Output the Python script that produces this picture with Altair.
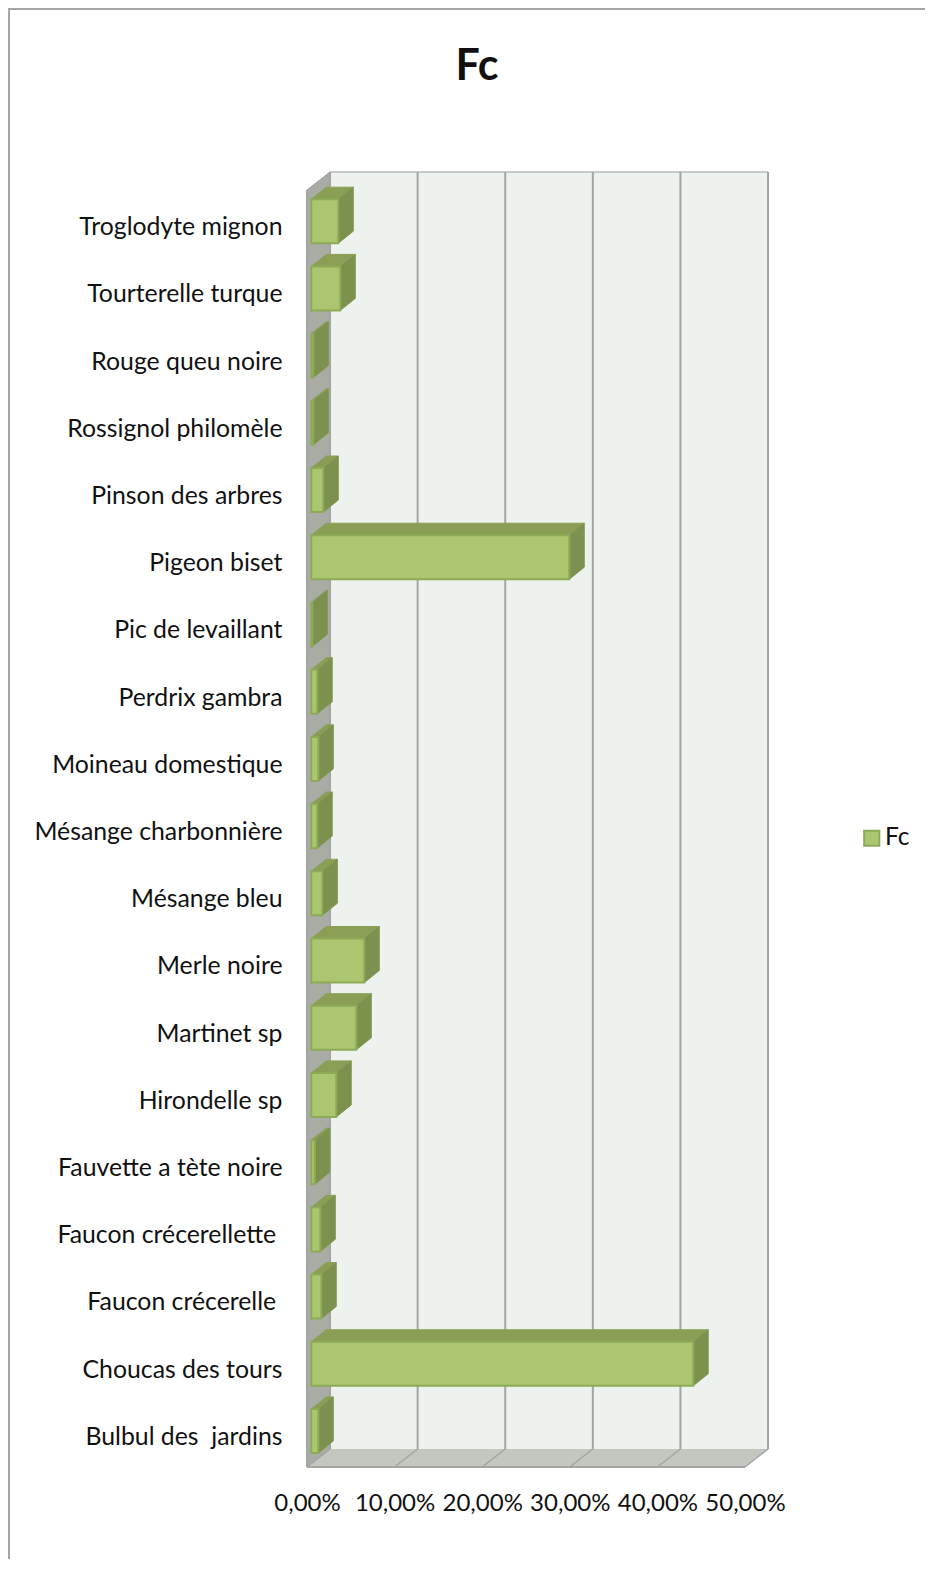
import json
import altair as alt
import pandas as pd

categories = ["Troglodyte mignon", "Tourterelle turque", "Rouge queu noire", "Rossignol philomèle",
              "Pinson des arbres", "Pigeon biset", "Pic de levaillant", "Perdrix gambra",
              "Moineau domestique", "Mésange charbonnière", "Mésange bleu", "Merle noire",
              "Martinet sp", "Hirondelle sp", "Fauvette a tète noire", "Faucon crécerellette\u00a0\u200b",
              "Faucon crécerelle\u00a0\u200b", "Choucas des tours", "Bulbul des\u00a0 jardins"]
values = [3.08, 3.31, 0.23, 0.23, 1.37, 29.45, 0.11, 0.68, 0.80, 0.68, 1.26, 6.05, 5.14, 2.85,
          0.40, 1.03, 1.14, 43.6, 0.80]
x_ticks = [0, 10, 20, 30, 40, 50]
series_name = "Fc"

# geometry of the pseudo-3D box, in axis units
WALL_DX, WALL_DY = 2.63, 0.268
BAR_DX, BAR_DY = 1.71, 0.179
BAR_X0, BAR_Y0, BAR_Y1 = 0.49, 0.208, 0.863
N = len(categories)

FONT = "Lato"
GRID = "#a3a5a3"

x_axis = alt.Axis(values=x_ticks, grid=False, domain=False, ticks=False, labelPadding=24,
                  labelExpr="replace(format(datum.value/100,'.2%'),'.',',')",
                  labelFont=FONT, labelFontSize=24, labelColor="#111111", labelOverlap=False, labelFlush=False,
                  labelLimit=300)
y_axis = alt.Axis(values=[r + 0.5 for r in range(N)], grid=False, domain=False, ticks=False, labelPadding=25,
                  labelExpr=json.dumps(categories[::-1], ensure_ascii=False) + "[floor(datum.value)]",
                  labelFont=FONT, labelFontSize=24.8, labelColor="#111111", labelOverlap=False, labelOffset=4,
                  labelLimit=300)
X = alt.X("x:Q", scale=alt.Scale(domain=[0, 50], nice=False), title=None, axis=x_axis)
Y = alt.Y("y:Q", scale=alt.Scale(domain=[0, N], nice=False), title=None, axis=y_axis)
X2 = alt.X2("x2:Q")
Y2 = alt.Y2("y2:Q")

rows = [dict(cat=c, v=v, r=N - 1 - i) for i, (c, v) in enumerate(zip(categories, values))]
front = pd.DataFrame([dict(series=series_name, x=BAR_X0, x2=BAR_X0 + d["v"],
                           y=d["r"] + BAR_Y0, y2=d["r"] + BAR_Y1) for d in rows])
side = pd.DataFrame([dict(cat=d["cat"], x=BAR_X0 + d["v"] + t * BAR_DX,
                          y=d["r"] + BAR_Y0 + t * BAR_DY, y2=d["r"] + BAR_Y1 + t * BAR_DY)
                     for d in rows for t in (0, 1)])
top = pd.DataFrame([dict(cat=d["cat"], y=d["r"] + BAR_Y1 + t * BAR_DY, x=BAR_X0 + t * BAR_DX,
                         x2=BAR_X0 + d["v"] + t * BAR_DX) for d in rows for t in (0, 1)])

back_wall = alt.Chart(pd.DataFrame([dict(x=WALL_DX, x2=50 + WALL_DX, y=WALL_DY, y2=N + WALL_DY)])).mark_rect(
    fill="#eef2ef").encode(x=X, x2=X2, y=Y, y2=Y2)
left_wall = alt.Chart(pd.DataFrame([dict(x=t * WALL_DX, y=t * WALL_DY, y2=N + t * WALL_DY) for t in (0, 1)])).mark_area(
    fill="#a9aba5", stroke="#9c9e9c", strokeWidth=1).encode(x=X, y=Y, y2=Y2)
floor = alt.Chart(pd.DataFrame([dict(y=t * WALL_DY, x=t * WALL_DX, x2=50 + t * WALL_DX) for t in (0, 1)])).mark_area(
    fill="#c4c6c0", orient="horizontal").encode(x=X, x2=X2, y=Y)
front_edge = alt.Chart(pd.DataFrame([dict(x=0, x2=50, y=0)])).mark_rule(color=GRID, strokeWidth=2).encode(x=X, x2=X2, y=Y)
left_edge = alt.Chart(pd.DataFrame([dict(x=0, y=0, y2=N)])).mark_rule(color=GRID, strokeWidth=2).encode(x=X, y=Y, y2=Y2)
back_top = alt.Chart(pd.DataFrame([dict(x=WALL_DX, x2=50 + WALL_DX, y=N + WALL_DY)])).mark_rule(
    color="#b8bab8", strokeWidth=1.5).encode(x=X, x2=X2, y=Y)
grid_back = alt.Chart(pd.DataFrame([dict(x=t + WALL_DX, y=WALL_DY, y2=N + WALL_DY) for t in x_ticks])).mark_rule(
    color=GRID, strokeWidth=2).encode(x=X, y=Y, y2=Y2)
grid_floor = alt.Chart(pd.DataFrame([dict(tick=t, x=t + k * WALL_DX, y=k * WALL_DY) for t in x_ticks for k in (0, 1)])).mark_line(
    color=GRID, strokeWidth=1.5).encode(x=X, y=Y, detail="tick:N")

top_faces = alt.Chart(top).mark_area(fill="#8a9f55", stroke="#8a9f55", strokeWidth=1, orient="horizontal").encode(
    x=X, x2=X2, y=Y, detail="cat:N")
side_faces = alt.Chart(side).mark_area(fill="#7c914d", stroke="#7f9650", strokeWidth=1).encode(
    x=X, y=Y, y2=Y2, detail="cat:N")
front_faces = alt.Chart(front).mark_rect(stroke="#8dab57", strokeWidth=2).encode(
    x=X, x2=X2, y=Y, y2=Y2,
    color=alt.Color("series:N", scale=alt.Scale(range=["#abc66e"]),
                    legend=alt.Legend(title=None, orient="none", legendX=552.5, legendY=636, symbolType="square",
                                      symbolSize=230, symbolStrokeColor="#8dab57", symbolStrokeWidth=2,
                                      labelFont=FONT, labelFontSize=24.5, labelColor="#111111", labelOffset=1)),
)

frame_left = alt.Chart(pd.DataFrame([{"a": 0}])).mark_rule(color="#a6a6a6", strokeWidth=2).encode(
    x=alt.value(-298), y=alt.value(-182), y2=alt.value(1371))
frame_top = alt.Chart(pd.DataFrame([{"a": 0}])).mark_rule(color="#a6a6a6", strokeWidth=2).encode(
    x=alt.value(-298), x2=alt.value(618), y=alt.value(-181))

chart = alt.layer(
    frame_left, frame_top, back_wall, left_wall, floor, back_top, grid_back, grid_floor, front_edge, left_edge,
    top_faces, side_faces, front_faces,
).properties(
    width=438, height=1277,
    padding={"left": 299, "top": 182, "right": 180, "bottom": 92},
    autosize=alt.AutoSizeParams(type="none"),
    title=alt.TitleParams(series_name, font=FONT, fontWeight="bold", fontSize=43, color="#111111",
                          anchor="middle", dx=-49, offset=0, dy=82),
).configure_view(stroke=None)

chart.save("out.html", embed_options={"renderer": "svg", "actions": False})
